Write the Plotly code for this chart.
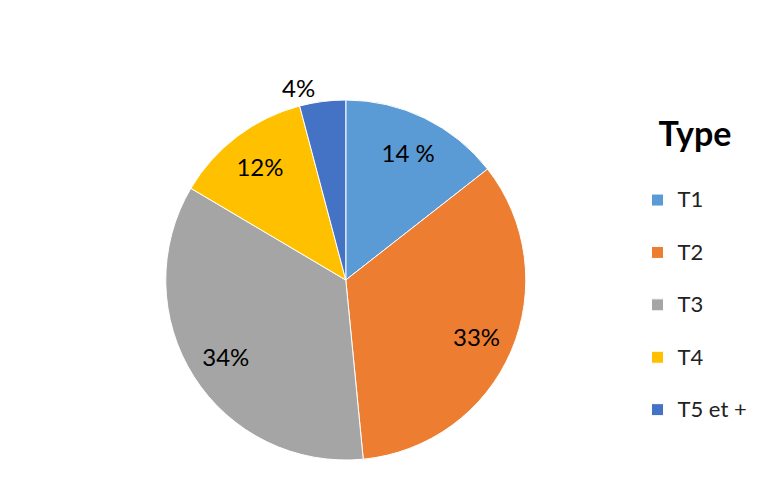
import plotly.graph_objects as go

labels = ['T1', 'T2', 'T3', 'T4', 'T5 et +']
values = [14, 33, 34, 12, 4]
pct_text = ['14 %', '33%', '34%', '12%', '4%']
colors = ['#5B9BD5', '#ED7D31', '#A5A5A5', '#FFC000', '#4472C4']
positions = ['inside', 'inside', 'inside', 'inside', 'outside']

FONT = 'Lato, "Liberation Sans", sans-serif'
DOMAIN = dict(x=[0.202, 0.663], y=[0.056, 0.856])

def main():
    # legend rows: 2 lines each so the spacing is like the excel legend
    leg_labels = ['<span style="font-size:22px">%s</span><br> ' % l for l in labels]
    outside_only = [t if p == 'outside' else '' for t, p in zip(pct_text, positions)]

    # real pie (colours + legend + the outside label)
    pie = go.Pie(
        labels=leg_labels, values=values,
        text=outside_only, textinfo='text', textposition=positions,
        textfont=dict(family=FONT, size=24, color='black'),
        marker=dict(colors=colors, line=dict(color='white', width=1)),
        sort=False, direction='clockwise', rotation=0,
        domain=DOMAIN, hoverinfo='none',
    )
    # transparent ring on top, only to push the inside labels outwards
    ring = go.Pie(
        labels=leg_labels, values=values,
        text=pct_text, textinfo='text', textposition=positions,
        insidetextorientation='horizontal',
        textfont=dict(family=FONT, size=24,
                      color=['black' if p == 'inside' else 'rgba(0,0,0,0)' for p in positions]),
        marker=dict(colors=['rgba(0,0,0,0)'] * len(values), line=dict(width=0)),
        hole=0.58, sort=False, direction='clockwise', rotation=0,
        domain=DOMAIN, hoverinfo='none', showlegend=False,
    )
    fig = go.Figure([pie, ring])
    fig.update_layout(
        width=781, height=500,
        margin=dict(l=0, r=0, t=0, b=0),
        paper_bgcolor='white',
        font=dict(family=FONT, color='black'),
        showlegend=True,
        legend=dict(
            x=0.806, y=0.794, xanchor='left', yanchor='top',
            valign='top',
            font=dict(family=FONT, size=19, color='#222222'),
            title=dict(text='<span style="font-size:34px"><b>Type</b></span><br> ',
                       side='top center',
                       font=dict(family=FONT, size=27, color='black')),
        ),
    )
    fig.write_html('out.html')

if __name__ == '__main__':
    main()
